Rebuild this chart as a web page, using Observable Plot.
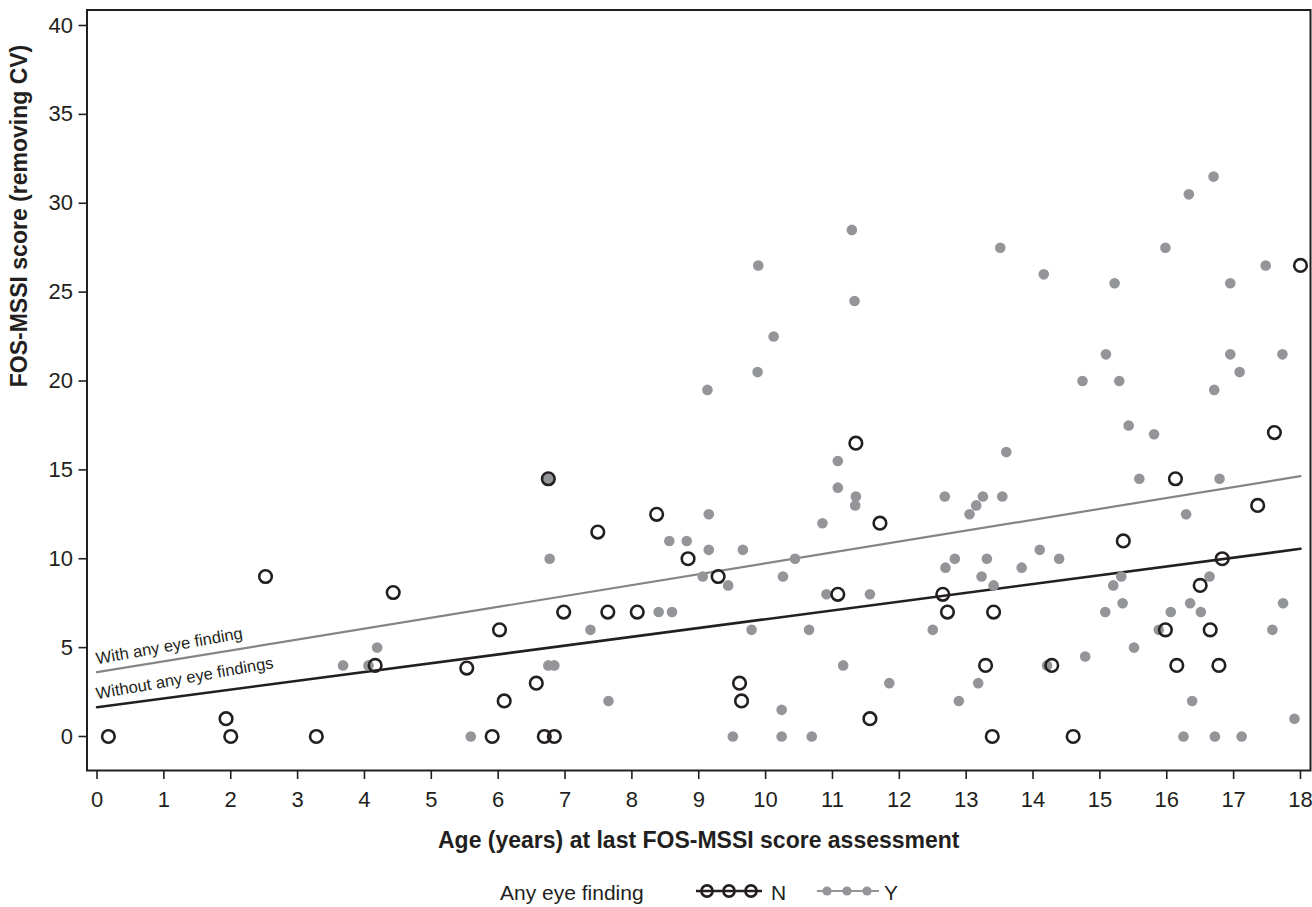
<!DOCTYPE html>
<html><head><meta charset="utf-8">
<script src="https://cdn.jsdelivr.net/npm/d3@7"></script>
<script src="https://cdn.jsdelivr.net/npm/@observablehq/plot@0.6"></script>
<style>
body{margin:0;background:#fff;font-family:"Liberation Sans",Arial,Helvetica,sans-serif;color:#231f20;}
#chart{position:relative;width:1312px;height:907px;}
#legend{position:absolute;left:0;top:862px;}
</style></head><body><div id="chart"></div>
<script>
// ---- data ----
const groups = ["N", "Y"];
const groupColors = ["#231f20", "#939598"];

// Any eye finding = N (hollow circles)
const ageN = [0.17, 1.93, 2.0, 2.52, 3.28, 4.16, 4.43, 5.53, 5.91, 6.02, 6.09, 6.57, 6.69, 6.84, 6.75, 6.98, 7.49, 7.64, 8.08, 8.37, 8.84, 9.29, 9.61, 9.64, 11.08, 11.35, 11.56, 11.71, 12.65, 12.72, 13.29, 13.39, 13.41, 14.28, 14.6, 15.35, 15.98, 16.13, 16.15, 16.5, 16.65, 16.78, 16.83, 17.36, 17.61, 18.0];
const scoreN = [0, 1, 0, 9, 0, 4, 8.1, 3.85, 0, 6, 2, 3, 0, 0, 14.5, 7, 11.5, 7, 7, 12.5, 10, 9, 3, 2, 8, 16.5, 1, 12, 8, 7, 4, 0, 7, 4, 0, 11, 6, 14.5, 4, 8.5, 6, 4, 10, 13, 17.1, 26.5];

// Any eye finding = Y (filled grey dots)
const ageY = [3.68, 4.06, 4.19, 5.59, 6.77, 6.75, 6.84, 6.75, 7.38, 7.65, 8.40, 8.60, 8.56, 8.82, 9.06, 9.13, 9.15, 9.15, 9.44, 9.51, 9.66, 9.79, 9.88, 9.89, 10.12, 10.24, 10.24, 10.26, 10.44, 10.65, 10.69, 10.85, 10.91, 11.08, 11.08, 11.16, 11.29, 11.33, 11.34, 11.35, 11.56, 11.85, 12.5, 12.68, 12.69, 12.83, 12.89, 13.05, 13.15, 13.18, 13.23, 13.25, 13.31, 13.41, 13.51, 13.54, 13.6, 13.83, 14.1, 14.16, 14.21, 14.39, 14.74, 14.78, 15.08, 15.09, 15.2, 15.22, 15.29, 15.32, 15.34, 15.43, 15.51, 15.59, 15.81, 15.88, 15.98, 16.06, 16.25, 16.29, 16.33, 16.35, 16.38, 16.51, 16.64, 16.70, 16.71, 16.72, 16.79, 16.95, 16.95, 17.09, 17.12, 17.48, 17.58, 17.73, 17.74, 17.91];
const scoreY = [4, 4, 5, 0, 10, 4, 4, 14.5, 6, 2, 7, 7, 11, 11, 9, 19.5, 12.5, 10.5, 8.5, 0, 10.5, 6, 20.5, 26.5, 22.5, 1.5, 0, 9, 10, 6, 0, 12, 8, 15.5, 14, 4, 28.5, 24.5, 13, 13.5, 8, 3, 6, 13.5, 9.5, 10, 2, 12.5, 13, 3, 9, 13.5, 10, 8.5, 27.5, 13.5, 16, 9.5, 10.5, 26, 4, 10, 20, 4.5, 7, 21.5, 8.5, 25.5, 20, 9, 7.5, 17.5, 5, 14.5, 17, 6, 27.5, 7, 0, 12.5, 30.5, 7.5, 2, 7, 9, 31.5, 19.5, 0, 14.5, 25.5, 21.5, 20.5, 0, 26.5, 6, 21.5, 7.5, 1];

// fitted regression lines
const fitGroups = ["Y", "N"];
const fitIntercept = [3.617, 1.648];
const fitSlope = [0.6127, 0.495];
const fitLabels = ["With any eye finding", "Without any eye findings"];
const fitColors = ["#858585", "#231f20"];
const fitRange = [0, 18];

const xTicks = [0,1,2,3,4,5,6,7,8,9,10,11,12,13,14,15,16,17,18];
const yTicks = [0,5,10,15,20,25,30,35,40];
const xTitle = "Age (years) at last FOS-MSSI score assessment";
const yTitle = "FOS-MSSI score (removing CV)";
const legendTitle = "Any eye finding";

// ---- tables ----
const ptsN = ageN.map((a, i) => ({age: a, score: scoreN[i], group: "N"}));
const ptsY = ageY.map((a, i) => ({age: a, score: scoreY[i], group: "Y"}));
const fitData = fitGroups.flatMap((g, i) => fitRange.map(x => ({group: g, age: x, score: fitIntercept[i] + fitSlope[i] * x})));
const fitLabelData = fitGroups.map((g, i) => ({group: g, label: fitLabels[i], age: fitRange[0], score: fitIntercept[i]}));

const ink = "#231f20";
const chart = Plot.plot({
  width: 1312,
  height: 862,
  marginLeft: 86.5,
  marginRight: 2,
  marginTop: 9.5,
  marginBottom: 92,
  style: {fontFamily: '"Liberation Sans", Arial, Helvetica, sans-serif', color: ink, background: "#fff"},
  x: {domain: [-0.15, 18.15]},
  y: {domain: [-1.913, 40.872]},
  marks: [
    Plot.line(fitData, {x: "age", y: "score", z: "group", stroke: d => fitColors[fitGroups.indexOf(d.group)], strokeWidth: d => d.group === "N" ? 2.6 : 2.2}),
    Plot.text(fitLabelData, {x: "age", y: "score", text: "label", textAnchor: "start", lineAnchor: "bottom", rotate: -10, dy: -8, fontSize: 16.5, fill: ink}),
    Plot.dot(ptsY, {x: "age", y: "score", r: 5.3, fill: groupColors[1], stroke: "none"}),
    Plot.dot(ptsN, {x: "age", y: "score", r: 6.3, fill: "none", stroke: groupColors[0], strokeWidth: 2.6}),
    Plot.frame({stroke: ink, strokeWidth: 2}),
    Plot.axisY({ticks: yTicks, tickSize: 8, tickPadding: 6, fontSize: 22, strokeWidth: 1.6, label: null}),
    Plot.axisX({ticks: xTicks, tickSize: 9, tickPadding: 12, fontSize: 22, strokeWidth: 1.6, label: null}),
    Plot.text([xTitle], {text: d => d, frameAnchor: "bottom", dy: 77, fontSize: 23, fontWeight: "bold", fill: ink}),
    Plot.text([yTitle], {text: d => d, frameAnchor: "left", rotate: -90, dx: -67, dy: -3, fontSize: 23, fontWeight: "bold", fill: ink})
  ]
});
document.getElementById("chart").appendChild(chart);

// ---- legend (below the plot SVG) ----
const lg = d3.select("#chart").append("svg").attr("id", "legend").attr("width", 1312).attr("height", 45);
lg.append("text").attr("x", 500).attr("y", 38).attr("font-size", 21).attr("fill", ink).text(legendTitle);
const lgY = 29;
// N swatch
lg.append("line").attr("x1", 696).attr("x2", 762).attr("y1", lgY).attr("y2", lgY).attr("stroke", groupColors[0]).attr("stroke-width", 2.6);
[707, 729, 751].forEach(cx => lg.append("circle").attr("cx", cx).attr("cy", lgY).attr("r", 5.6).attr("fill", "none").attr("stroke", groupColors[0]).attr("stroke-width", 2.6));
lg.append("text").attr("x", 771).attr("y", 38).attr("font-size", 21).attr("fill", ink).text(groups[0]);
// Y swatch
lg.append("line").attr("x1", 817).attr("x2", 879).attr("y1", lgY).attr("y2", lgY).attr("stroke", groupColors[1]).attr("stroke-width", 2.2);
[827, 847, 867].forEach(cx => lg.append("circle").attr("cx", cx).attr("cy", lgY).attr("r", 4.6).attr("fill", groupColors[1]));
lg.append("text").attr("x", 884).attr("y", 38).attr("font-size", 21).attr("fill", ink).text(groups[1]);
</script></body></html>
